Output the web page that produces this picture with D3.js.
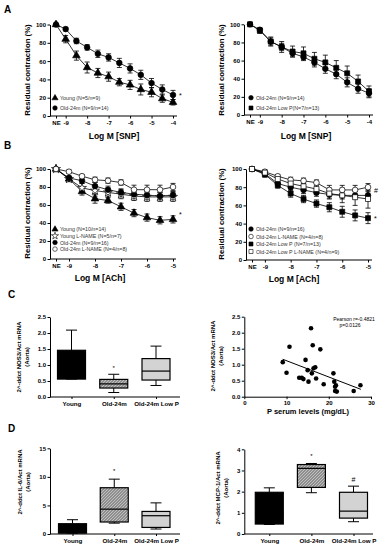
<!DOCTYPE html>
<html lang="en">
<head>
<meta charset="utf-8" />
<title>Vascular function panels</title>
<script src="https://d3js.org/d3.v7.min.js"></script>
<style>
  body { margin: 0; background: #fff; }
  svg text { font-family: 'Liberation Sans', Arial, sans-serif; }
</style>
</head>
<body>
<script>
// ---------- data ----------
// Panel A: SNP concentration response
var snpDoses = ["NE", -9, -8.5, -8, -7.5, -7, -6.5, -6, -5.5, -5, -4.5, -4];
var snpTicks = ["NE", -9, -8, -7, -6, -5, -4];
var aYoung = [100, 84, 66, 53, 47, 43, 37, 34, 29, 26, 19, 15];
var aYoungErr = [0, 4, 5, 6, 5, 5, 4, 5, 6, 5, 4, 3];
var aOld = [100, 95, 82, 75, 68, 64, 58, 52, 45, 36, 29, 23];
var aOldErr = [0, 2, 3, 3, 4, 4, 5, 5, 5, 5, 5, 5];
var aOldR = [100, 94, 81, 75, 68, 64, 58, 51, 45, 36, 29, 24];
var aOldRErr = [0, 2, 4, 4, 4, 4, 5, 5, 5, 5, 5, 5];
var aLowP = [100, 93, 81, 75, 70, 68, 62, 58, 52, 46, 37, 26];
var aLowPErr = [0, 3, 5, 6, 6, 7, 7, 8, 8, 8, 7, 6];

// Panel B: ACh concentration response
var achDoses = ["NE", -9, -8.5, -8, -7.5, -7, -6.5, -6, -5.5, -5];
var achTicks = ["NE", -9, -8, -7, -6, -5];
var bYoung = [100, 89, 75, 67, 65, 58, 51, 46, 43, 44];
var bYoungErr = [0, 3, 4, 5, 3, 4, 4, 4, 4, 4];
var bYoungLN = [100, 89, 79, 76, 74, 72, 70, 69, 69, 69];
var bYoungLNErr = [0, 3, 5, 6, 5, 5, 5, 5, 5, 5];
var bOld = [100, 90, 87, 81, 77, 74, 72, 71, 70, 71];
var bOldErr = [0, 2, 3, 4, 4, 4, 4, 4, 4, 4];
var bOldLN = [100, 97, 92, 88, 87, 85, 77, 77, 77, 80];
var bOldLNErr = [0, 2, 2, 3, 3, 3, 5, 5, 5, 4];
var bOldR = [100, 95, 84, 80, 77, 74, 72, 71, 71, 71];
var bLowP = [100, 94, 82, 73, 67, 62, 58, 53, 49, 46];
var bLowPErr = [0, 3, 3, 4, 4, 4, 5, 6, 6, 6];
var bLowPLN = [100, 96, 89, 84, 81, 78, 73, 71, 69, 67];
var bLowPLNErr = [0, 2, 3, 4, 5, 6, 6, 8, 9, 10];

// Panels C and D: box plots
var groups = ["Young", "Old-24m", "Old-24m Low P"];
var nosMin = [0.56, 0.14, 0.36];
var nosQ1 = [0.56, 0.28, 0.53];
var nosMed = [1.0, 0.41, 0.81];
var nosQ3 = [1.46, 0.55, 1.2];
var nosMax = [2.09, 0.71, 1.59];
var il6Min = [0.15, 1.9, 0.87];
var il6Q1 = [0.15, 2.1, 1.15];
var il6Med = [1.0, 4.35, 3.2];
var il6Q3 = [1.8, 8.1, 3.95];
var il6Max = [2.5, 9.6, 5.45];
var mcpMin = [0.45, 1.95, 0.58];
var mcpQ1 = [0.47, 2.2, 0.75];
var mcpMed = [1.0, 3.1, 1.08];
var mcpQ3 = [1.97, 3.28, 1.97];
var mcpMax = [2.18, 3.33, 2.26];

// Panel C right: NOS3 vs serum P
var serumP = [9.1, 10.0, 10.7, 13.0, 13.6, 14.0, 14.5, 15.0, 15.2, 15.8, 16.0, 16.2, 16.4, 16.8, 17.0, 18.0, 18.8, 21.1, 21.3, 21.5, 21.7, 21.5, 21.9, 25.9, 27.5];
var nosExpr = [1.08, 0.75, 1.56, 0.59, 0.59, 0.55, 1.15, 0.83, 0.47, 2.14, 0.73, 1.61, 0.89, 0.92, 0.57, 1.48, 0.39, 0.73, 0.47, 0.31, 0.36, 0.18, 0.16, 0.18, 0.36];
var fitX = [9.1, 27.6];
var fitY = [1.17, 0.23];

// ---------- drawing ----------
var svg = d3.select("body").append("svg")
    .attr("width", 382)
    .attr("height", 550);

var defs = svg.append("defs");
var pat = defs.append("pattern")
    .attr("id", "hatch")
    .attr("patternUnits", "userSpaceOnUse")
    .attr("width", 3)
    .attr("height", 3);
pat.append("rect").attr("width", 3).attr("height", 3).attr("fill", "#8e8e8e");
pat.append("path").attr("d", "M0,3 L3,0").attr("stroke", "#d6d6d6").attr("stroke-width", 0.7);

function styleAxis(g) {
    g.selectAll("path, line").attr("stroke", "#000").attr("stroke-width", 1);
    g.selectAll("text").attr("font-size", "6px").attr("font-weight", "bold").attr("fill", "#000");
}

function panelLetter(t, x, y) {
    svg.append("text").attr("x", x).attr("y", y).text(t)
        .attr("font-size", "10px").attr("font-weight", "bold");
}

function yTitle(lines, x, cy, size) {
    lines.forEach(function (l, i) {
        svg.append("text")
            .attr("transform", "translate(" + (x + i * (size + 1.5)) + "," + cy + ") rotate(-90)")
            .attr("text-anchor", "middle")
            .attr("font-size", size + "px")
            .attr("font-weight", "bold")
            .text(l);
    });
}

function xTitle(t, cx, y, size) {
    svg.append("text").attr("x", cx).attr("y", y).attr("text-anchor", "middle")
        .attr("font-size", size + "px").attr("font-weight", "bold").text(t);
}

function linePanel(p) {
    var x = d3.scaleLinear().domain([p.nePos, p.xMax]).range(p.xr);
    var y = d3.scaleLinear().domain([0, 100]).range(p.yr);
    var px = function (d) { return x(d === "NE" ? p.nePos : d); };

    svg.append("g")
        .attr("transform", "translate(" + p.axisX + ",0)")
        .call(d3.axisLeft(y).tickValues([0, 20, 40, 60, 80, 100]).tickSize(2.5).tickSizeOuter(0).tickPadding(1.5))
        .call(styleAxis);

    svg.append("line").attr("x1", p.axisX).attr("x2", p.xEnd)
        .attr("y1", y(0)).attr("y2", y(0)).attr("stroke", "#000");

    var xg = svg.append("g")
        .attr("transform", "translate(0," + y(0) + ")")
        .call(d3.axisBottom(x)
            .tickValues(p.ticks.map(function (t) { return t === "NE" ? p.nePos : t; }))
            .tickFormat(function (d) { return d === p.nePos ? "NE" : String(d); })
            .tickSize(2.5).tickSizeOuter(0).tickPadding(2))
        .call(styleAxis);
    xg.select(".domain").remove();

    var line = d3.line()
        .x(function (d) { return px(d[0]); })
        .y(function (d) { return y(d[1]); });

    p.series.forEach(function (s) {
        var pts = p.doses.map(function (d, i) { return [d, s.v[i], s.e ? s.e[i] : 0]; });
        svg.append("path").attr("d", line(pts)).attr("fill", "none")
            .attr("stroke", "#000").attr("stroke-width", 0.8);
        var eb = svg.append("g").attr("stroke", "#000").attr("stroke-width", 0.8);
        pts.forEach(function (d) {
            if (!d[2]) return;
            var cx = px(d[0]);
            eb.append("line").attr("x1", cx).attr("x2", cx).attr("y1", y(d[1] - d[2])).attr("y2", y(d[1] + d[2]));
            [d[1] - d[2], d[1] + d[2]].forEach(function (v) {
                eb.append("line").attr("x1", cx - 2.5).attr("x2", cx + 2.5).attr("y1", y(v)).attr("y2", y(v));
            });
        });
    });
    p.series.forEach(function (s) {
        var sym = d3.symbol().type(s.sym).size(s.size || 25);
        svg.append("g").selectAll("path")
            .data(p.doses.map(function (d, i) { return [d, s.v[i]]; }))
            .enter().append("path")
            .attr("d", sym)
            .attr("transform", function (d) { return "translate(" + px(d[0]) + "," + y(d[1]) + ")"; })
            .attr("fill", s.fill).attr("stroke", "#000").attr("stroke-width", 0.7);
    });

    // legend
    p.series.forEach(function (s, i) {
        if (!s.label) return;
        var ly = p.legY + i * p.legStep;
        svg.append("path").attr("d", d3.symbol().type(s.sym).size((s.size || 25) * 0.65))
            .attr("transform", "translate(" + p.legX + "," + ly + ")")
            .attr("fill", s.fill).attr("stroke", "#000").attr("stroke-width", 0.6);
        svg.append("text").attr("x", p.legX + 5).attr("y", ly + 2)
            .attr("font-size", "5.3px").attr("fill", "#333").text(s.label);
    });

    (p.marks || []).forEach(function (m) {
        var s = p.series[m.s];
        svg.append("text").attr("x", px(p.doses[p.doses.length - 1]) + 6)
            .attr("y", y(s.v[s.v.length - 1]) + m.dy)
            .attr("font-size", "7px").text(m.t);
    });
}

function boxPanel(p, st) {
    var y = d3.scaleLinear().domain([0, p.yMax]).range(p.yr);
    var x = d3.scalePoint().domain(groups).range(p.cx);

    svg.append("g")
        .attr("transform", "translate(" + p.axisX + ",0)")
        .call(d3.axisLeft(y).tickValues(p.yTicks).tickFormat(d3.format(p.fmt)).tickSize(2.5).tickSizeOuter(0).tickPadding(1.5))
        .call(styleAxis);

    svg.append("line").attr("x1", p.axisX).attr("x2", p.xEnd)
        .attr("y1", y(0)).attr("y2", y(0)).attr("stroke", "#000");

    var xg = svg.append("g")
        .attr("transform", "translate(0," + y(0) + ")")
        .call(d3.axisBottom(x).tickSize(2).tickSizeOuter(0).tickPadding(2.5))
        .call(styleAxis);
    xg.select(".domain").remove();
    xg.selectAll("text").attr("font-size", "6.2px");

    var fills = ["#000", "url(#hatch)", "#d3d3d3"];
    var bw = 28, cw = 11;
    groups.forEach(function (gname, i) {
        var cx = x(gname);
        var g = svg.append("g").attr("stroke", "#000").attr("stroke-width", 1);
        g.append("line").attr("x1", cx).attr("x2", cx).attr("y1", y(st.max[i])).attr("y2", y(st.q3[i]));
        g.append("line").attr("x1", cx).attr("x2", cx).attr("y1", y(st.q1[i])).attr("y2", y(st.min[i]));
        g.append("line").attr("x1", cx - cw / 2).attr("x2", cx + cw / 2).attr("y1", y(st.max[i])).attr("y2", y(st.max[i]));
        g.append("line").attr("x1", cx - cw / 2).attr("x2", cx + cw / 2).attr("y1", y(st.min[i])).attr("y2", y(st.min[i]));
        g.append("rect").attr("x", cx - bw / 2).attr("width", bw)
            .attr("y", y(st.q3[i])).attr("height", y(st.q1[i]) - y(st.q3[i]))
            .attr("fill", fills[i]).attr("stroke-width", 1.2);
        g.append("line").attr("x1", cx - bw / 2).attr("x2", cx + bw / 2)
            .attr("y1", y(st.med[i])).attr("y2", y(st.med[i])).attr("stroke-width", 1.2);
    });

    (p.marks || []).forEach(function (m) {
        svg.append("text").attr("x", x(groups[m.g])).attr("y", y(m.v) + 3)
            .attr("text-anchor", "middle").attr("font-size", m.size || "6px").text(m.t);
    });
}

// ---- Panel A ----
panelLetter("A", 4, 13);
linePanel({
    axisX: 50, xEnd: 177, nePos: -9.45, xMax: -4, xr: [56, 173], yr: [116, 24.5],
    doses: snpDoses, ticks: snpTicks,
    series: [
        { v: aYoung, e: aYoungErr, sym: d3.symbolTriangle, fill: "#000", label: "Young (N=5/n=9)" },
        { v: aOld, e: aOldErr, sym: d3.symbolCircle, fill: "#000", label: "Old-24m (N=9/n=14)" }
    ],
    legX: 55, legY: 98, legStep: 10,
    marks: [{ s: 1, t: "*", dy: 3 }]
});
yTitle(["Residual contraction (%)"], 30, 70, 7.8);
xTitle("Log M [SNP]", 114, 139, 8.5);

linePanel({
    axisX: 244, xEnd: 373, nePos: -9.45, xMax: -4, xr: [250, 369], yr: [115, 24.3],
    doses: snpDoses, ticks: snpTicks,
    series: [
        { v: aOldR, e: aOldRErr, sym: d3.symbolCircle, fill: "#000", label: "Old-24m (N=9/n=14)" },
        { v: aLowP, e: aLowPErr, sym: d3.symbolSquare, fill: "#000", label: "Old-24m Low P(N=7/n=13)" }
    ],
    legX: 251, legY: 97.7, legStep: 10.3
});
yTitle(["Residual contraction (%)"], 224, 70, 7.8);
xTitle("Log M [SNP]", 306, 139, 8.5);

// ---- Panel B ----
panelLetter("B", 4, 149);
linePanel({
    axisX: 50, xEnd: 176, nePos: -9.5, xMax: -5, xr: [56, 173], yr: [259, 169],
    doses: achDoses, ticks: achTicks,
    series: [
        { v: bYoung, e: bYoungErr, sym: d3.symbolTriangle, fill: "#000", label: "Young (N=10/n=14)" },
        { v: bYoungLN, e: bYoungLNErr, sym: d3.symbolStar, fill: "#fff", label: "Young L-NAME (N=5/n=7)" },
        { v: bOld, e: bOldErr, sym: d3.symbolCircle, fill: "#000", label: "Old-24m (N=9/n=16)" },
        { v: bOldLN, e: bOldLNErr, sym: d3.symbolCircle, fill: "#fff", label: "Old-24m L-NAME (N=4/n=8)" }
    ],
    legX: 55, legY: 229.3, legStep: 6.6,
    marks: [{ s: 0, t: "*", dy: -2 }]
});
yTitle(["Residual contraction (%)"], 30, 213, 7.8);
xTitle("Log M [ACh]", 100, 281, 8.5);

linePanel({
    axisX: 246, xEnd: 372, nePos: -9.5, xMax: -5, xr: [252, 368], yr: [260, 169],
    doses: achDoses, ticks: achTicks,
    series: [
        { v: bOldR, e: bOldErr, sym: d3.symbolCircle, fill: "#000", label: "Old-24m (N=9/n=16)" },
        { v: bOldLN, e: bOldLNErr, sym: d3.symbolCircle, fill: "#fff", label: "Old-24m L-NAME (N=4/n=8)" },
        { v: bLowP, e: bLowPErr, sym: d3.symbolSquare, fill: "#000", label: "Old-24m Low P (N=7/n=13)" },
        { v: bLowPLN, e: bLowPLNErr, sym: d3.symbolSquare, fill: "#fff", label: "Old-24m Low P L-NAME (N=4/n=9)" }
    ],
    legX: 251, legY: 229, legStep: 7.5,
    marks: [{ s: 0, t: "#", dy: -2 }, { s: 2, t: "*", dy: 3 }]
});
yTitle(["Residual contraction (%)"], 224, 214, 7.8);
xTitle("Log M [ACh]", 294, 282, 8.5);

// ---- Panel C ----
panelLetter("C", 8, 298);
boxPanel({
    axisX: 50, xEnd: 180, yMax: 2.5, yr: [397, 317], cx: [71.5, 156],
    yTicks: [0, 0.5, 1, 1.5, 2, 2.5], fmt: ".1f",
    marks: [{ g: 1, v: 0.93, t: "*" }]
}, { min: nosMin, q1: nosQ1, med: nosMed, q3: nosQ3, max: nosMax });
yTitle(["2^-ddct NOS3/Act mRNA", "(Aorta)"], 21, 357, 6);

// scatter
(function () {
    var x = d3.scaleLinear().domain([0, 30]).range([244.3, 371]);
    var y = d3.scaleLinear().domain([0, 2.5]).range([396.7, 316.7]);
    svg.append("g").attr("transform", "translate(244.3,0)")
        .call(d3.axisLeft(y).tickValues([0, 0.5, 1, 1.5, 2, 2.5]).tickFormat(d3.format(".1f")).tickSize(2.5).tickSizeOuter(0).tickPadding(1.5))
        .call(styleAxis);
    svg.append("g").attr("transform", "translate(0,396.7)")
        .call(d3.axisBottom(x).tickValues([0, 10, 20, 30]).tickSize(2.5).tickSizeOuter(0).tickPadding(2))
        .call(styleAxis);
    svg.append("g").selectAll("circle").data(serumP).enter().append("circle")
        .attr("cx", function (d) { return x(d); })
        .attr("cy", function (d, i) { return y(nosExpr[i]); })
        .attr("r", 2.3).attr("fill", "#000");
    svg.append("line")
        .attr("x1", x(fitX[0])).attr("y1", y(fitY[0]))
        .attr("x2", x(fitX[1])).attr("y2", y(fitY[1]))
        .attr("stroke", "#000").attr("stroke-width", 1);
    svg.append("text").attr("x", 354).attr("y", 321).attr("text-anchor", "middle")
        .attr("font-size", "5px").text("Pearson r=-0.4821");
    svg.append("text").attr("x", 350).attr("y", 326.5).attr("text-anchor", "middle")
        .attr("font-size", "5px").text("p=0.0126");
})();
yTitle(["2^-ddct NOS3/Act mRNA", "(Aorta)"], 215, 356, 6);
xTitle("P serum levels (mg/dL)", 308, 414, 7.5);

// ---- Panel D ----
panelLetter("D", 8, 432);
boxPanel({
    axisX: 50, xEnd: 180, yMax: 15, yr: [534, 448.3], cx: [72.5, 156],
    yTicks: [0, 5, 10, 15], fmt: "d",
    marks: [{ g: 1, v: 11.2, t: "*" }]
}, { min: il6Min, q1: il6Q1, med: il6Med, q3: il6Q3, max: il6Max });
yTitle(["2^-ddct IL-6/Act mRNA", "(Aorta)"], 22, 482, 6);

boxPanel({
    axisX: 244.3, xEnd: 373, yMax: 4, yr: [534, 449.3], cx: [269.3, 353.5],
    yTicks: [0, 1, 2, 3, 4], fmt: "d",
    marks: [{ g: 1, v: 3.75, t: "*" }, { g: 2, v: 2.6, t: "#", size: "7px" }]
}, { min: mcpMin, q1: mcpQ1, med: mcpMed, q3: mcpQ3, max: mcpMax });
yTitle(["2^-ddct MCP-1/Act mRNA", "(Aorta)"], 220, 488, 6);
</script>
</body>
</html>
